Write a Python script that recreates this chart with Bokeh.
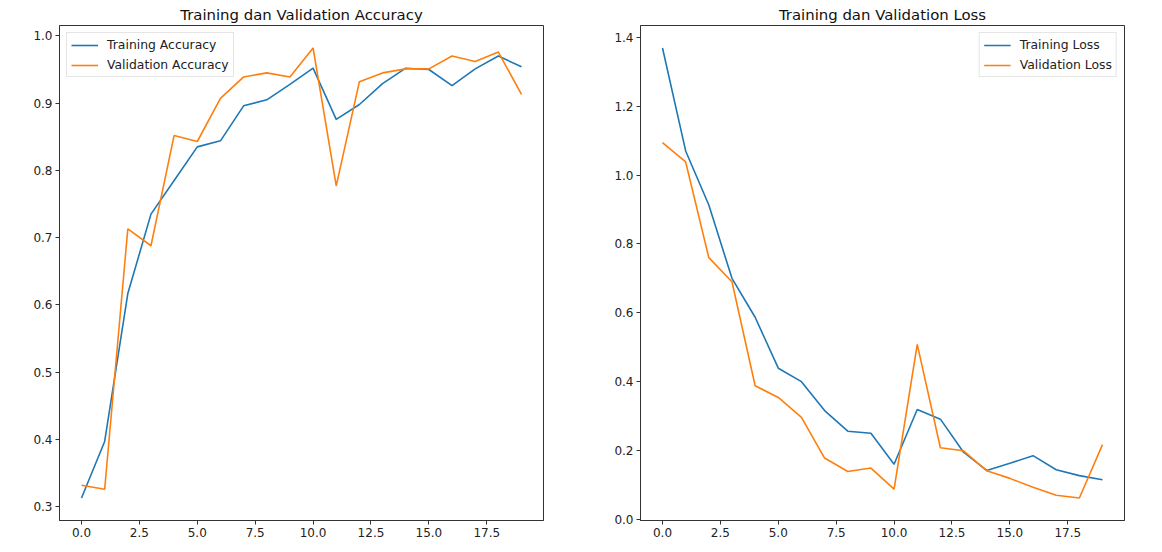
from bokeh.plotting import figure
from bokeh.layouts import row
from bokeh.models import Range1d, FixedTicker, PrintfTickFormatter
from bokeh.embed import file_html
from bokeh.resources import INLINE

epochs = list(range(20))
train_acc = [0.313, 0.397, 0.617, 0.735, 0.785, 0.835, 0.844, 0.896, 0.905, 0.928,
             0.952, 0.876, 0.898, 0.929, 0.952, 0.950, 0.926, 0.951, 0.970, 0.954]
val_acc = [0.332, 0.326, 0.713, 0.688, 0.852, 0.843, 0.907, 0.939, 0.945, 0.939,
           0.982, 0.777, 0.932, 0.945, 0.951, 0.951, 0.970, 0.962, 0.976, 0.913]
train_loss = [1.369, 1.070, 0.913, 0.700, 0.587, 0.439, 0.400, 0.316, 0.256, 0.250,
              0.160, 0.319, 0.291, 0.195, 0.142, 0.163, 0.185, 0.144, 0.127, 0.115]
val_loss = [1.094, 1.038, 0.760, 0.690, 0.388, 0.354, 0.296, 0.178, 0.139, 0.149,
            0.088, 0.508, 0.208, 0.199, 0.141, 0.119, 0.093, 0.070, 0.062, 0.217]

x_ticks = [0.0, 2.5, 5.0, 7.5, 10.0, 12.5, 15.0, 17.5]
acc_ticks = [0.3, 0.4, 0.5, 0.6, 0.7, 0.8, 0.9, 1.0]
loss_ticks = [0.0, 0.2, 0.4, 0.6, 0.8, 1.0, 1.2, 1.4]

BLUE = "#1f77b4"
ORANGE = "#ff7f0e"
FONT = "DejaVu Sans"


def padded(vals):
    lo, hi = min(vals), max(vals)
    m = (hi - lo) * 0.05
    return lo - m, hi + m


def make(title, y1, y2, l1, l2, yticks, loc, width, bl, br):
    xlo, xhi = padded(epochs)
    ylo, yhi = padded(y1 + y2)
    p = figure(width=width, height=546, output_backend="svg", toolbar_location=None,
               x_range=Range1d(xlo, xhi), y_range=Range1d(ylo, yhi),
               min_border_left=bl, min_border_right=br, min_border_top=25,
               min_border_bottom=26, title=title)
    p.title.text_font = FONT
    p.title.text_font_size = "14.9px"
    p.title.text_font_style = "normal"
    p.title.text_color = "#111111"
    p.title.align = "center"
    p.title.standoff = 4
    p.title.offset = 0
    p.line(epochs, y1, color=BLUE, line_width=1.6, legend_label=l1)
    p.line(epochs, y2, color=ORANGE, line_width=1.6, legend_label=l2)
    p.xgrid.visible = False
    p.ygrid.visible = False
    p.outline_line_color = "#333333"
    p.outline_line_width = 1
    p.xaxis.ticker = FixedTicker(ticks=x_ticks)
    p.yaxis.ticker = FixedTicker(ticks=yticks)
    p.xaxis.formatter = PrintfTickFormatter(format="%.1f")
    p.yaxis.formatter = PrintfTickFormatter(format="%.1f")
    for ax in (p.xaxis, p.yaxis):
        ax.major_label_text_font = FONT
        ax.major_label_text_font_size = "12px"
        ax.major_label_text_color = "#222222"
        ax.major_tick_out = 4
        ax.major_tick_in = 0
        ax.minor_tick_out = 0
        ax.minor_tick_in = 0
        ax.axis_line_color = "#333333"
        ax.major_tick_line_color = "#333333"
        ax.major_label_standoff = 3
    p.legend.location = loc
    p.legend.label_text_font = FONT
    p.legend.label_text_font_size = "12.4px"
    p.legend.label_text_color = "#222222"
    p.legend.border_line_color = "#cccccc"
    p.legend.background_fill_alpha = 0.8
    p.legend.glyph_width = 27
    p.legend.glyph_height = 14
    p.legend.label_height = 14
    p.legend.spacing = 5
    p.legend.padding = 4
    p.legend.margin = 7
    p.legend.label_standoff = 9
    return p


p1 = make("Training dan Validation Accuracy", train_acc, val_acc,
          "Training Accuracy", "Validation Accuracy", acc_ticks, "top_left", 590, 59, 47)
p2 = make("Training dan Validation Loss", train_loss, val_loss,
          "Training Loss", "Validation Loss", loss_ticks, "top_right", 564, 50, 30)

layout = row(p1, p2)
open("out.html", "w").write(file_html(layout, INLINE))
